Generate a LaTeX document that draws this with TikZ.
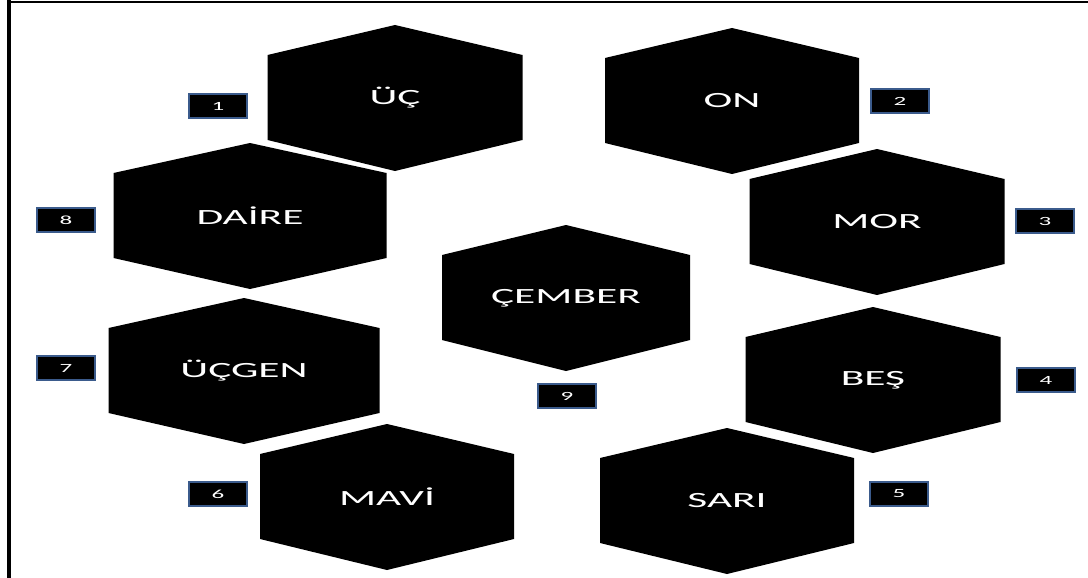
\documentclass[tikz,border=0pt]{standalone}
\usepackage{fontspec}
\usepackage{tikz}
\newfontfamily\hexfont[FakeStretch=2.0]{Carlito}
\definecolor{boxblue}{HTML}{3B5B8C}

\begin{document}
\begin{tikzpicture}[x=1pt, y=-1pt]

    % Define styles for the nodes
    \tikzstyle{hexa} = [
        rectangle, text centered, text=white, inner sep=0,
        minimum width=255, minimum height=146,
        font=\hexfont\fontsize{21.7}{26}\selectfont,
        path picture={
            \fill (path picture bounding box.north)
                -- ([yshift=-30pt]path picture bounding box.north east)
                -- ([yshift=31pt]path picture bounding box.south east)
                -- (path picture bounding box.south)
                -- ([yshift=31pt]path picture bounding box.south west)
                -- ([yshift=-30pt]path picture bounding box.north west)
                -- cycle;
        }
    ]
    \tikzstyle{numbox} = [
        rectangle, text centered, text=white, fill=black,
        draw=boxblue, line width=2, inner sep=0,
        minimum width=58, minimum height=24,
        font=\hexfont\fontsize{12.5}{14}\selectfont
    ]

    \useasboundingbox (0,0) rectangle (1088,578);

    % Frame
    \draw [line width=2] (8,2) -- (1088,2);
    \draw [line width=3.5] (9,0.5) -- (9,578);

    % Hexagons
    \node (uc) [hexa] at (395,98) {ÜÇ};
    \node (on) [hexa, minimum width=254] at (732,101) {ON};
    \node (daire) [hexa, minimum width=273] at (250,216) {DAİRE};
    \node (mor) [hexa] at (877,222) {MOR};
    \node (cember) [hexa, minimum width=248] at (566,298) {ÇEMBER};
    \node (ucgen) [hexa, minimum width=271] at (244,371) {ÜÇGEN};
    \node (bes) [hexa] at (873,380) {BEŞ};
    \node (mavi) [hexa, minimum width=254] at (387,497) {MAVİ};
    \node (sari) [hexa, minimum width=254] at (727,501) {SARI};

    % Numbers
    \node (n1) [numbox] at (218,106) {1};
    \node (n2) [numbox] at (900,101) {2};
    \node (n3) [numbox] at (1045,221) {3};
    \node (n4) [numbox] at (1046,380) {4};
    \node (n5) [numbox] at (899,494) {5};
    \node (n6) [numbox] at (218,494) {6};
    \node (n7) [numbox] at (66,368) {7};
    \node (n8) [numbox] at (66,220) {8};
    \node (n9) [numbox] at (567,396) {9};

\end{tikzpicture}
\end{document}
